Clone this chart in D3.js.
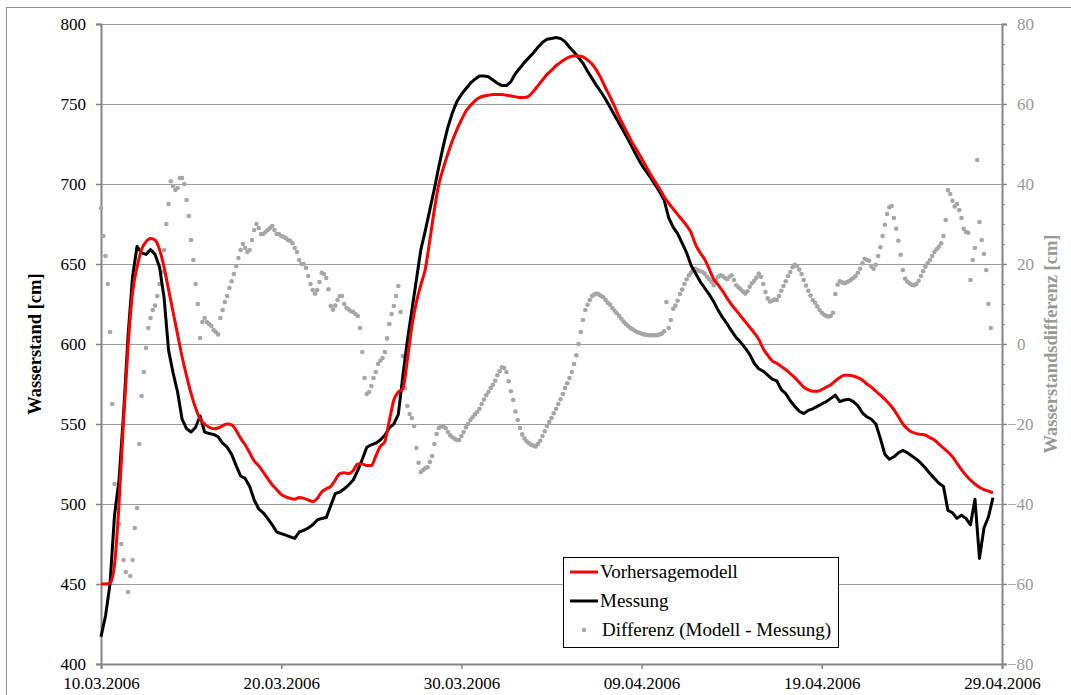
<!DOCTYPE html>
<html>
<head>
<meta charset="utf-8">
<script src="https://cdn.jsdelivr.net/npm/d3@7"></script>
<style>
  body { margin: 0; background: #fff; }
  text { font-family: "Liberation Serif", "Times New Roman", serif; }
</style>
</head>
<body>
<svg id="chart" width="1071" height="695"></svg>
<script>
// Time base: first sample and end of the x range (UTC)
const seriesStart = "10.03.2006";
const axisEnd = "29.04.2006";
const lineStepHours = 6;   // spacing of model / measurement samples
const diffStepHours = 3;   // spacing of difference samples

const dateTicks = ["10.03.2006", "20.03.2006", "30.03.2006", "09.04.2006", "19.04.2006", "29.04.2006"];
const levelTicks = [400, 450, 500, 550, 600, 650, 700, 750, 800];
const diffTicks = [-80, -60, -40, -20, 0, 20, 40, 60, 80];

// Vorhersagemodell, water level [cm], one row per day
const model = [
  450, 450, 450.5, 462,
  500, 552, 598, 632,
  648, 659, 664, 666,
  665, 659, 648, 634,
  620, 606, 592, 580,
  569, 560, 553, 550,
  548, 547, 547.5, 549,
  550, 549.5, 546, 541,
  537, 532, 527, 524,
  520, 516, 512, 509,
  506, 504.5, 503.5, 503,
  504, 503.5, 502.5, 501.5,
  503.5, 507.5, 509.5, 511,
  515, 519, 519.5, 519,
  521, 525, 525, 524,
  524, 530, 536, 539,
  552, 565, 570, 572,
  590, 611, 626, 637,
  647, 665, 684, 700,
  710, 719, 727, 734,
  740, 745.5, 749, 752,
  754, 755, 755.5, 756,
  756, 756, 755.5, 755,
  754.5, 754, 754, 755,
  758, 761.5, 765, 768.5,
  771, 774, 776, 778,
  779.5, 780, 780, 779.5,
  777.5, 775, 771, 766,
  760, 754.5, 748.5, 742,
  736.5, 731, 725.5, 721,
  716, 711, 706, 701.5,
  697, 692, 688, 684.5,
  681, 677.5, 674, 669.5,
  662, 657, 653, 647,
  640.5, 637, 633, 628.5,
  624.5, 621, 617.5, 614,
  610.5, 607, 603, 597,
  593, 589.5, 588, 586,
  584, 581.5, 579, 576,
  573, 571.5, 570.5, 570.5,
  571.5, 573, 574.5, 577,
  579, 580.5, 580.5, 580,
  579, 577.5, 575, 573,
  570.5, 568, 565.5, 562.5,
  559, 554.5, 550, 547,
  545, 544, 543.5, 543,
  541.5, 540, 537.5, 535,
  532.5, 529.5, 525.5, 521.5,
  518, 515, 512.5, 510.5,
  509, 508, 507
];

// Messung, water level [cm], one row per day
const measured = [
  417, 430, 450, 493,
  515, 556, 605, 642,
  661, 657, 656, 659,
  656, 648, 629, 596,
  582, 570, 553, 547,
  545, 548, 555, 545,
  544, 543.5, 542, 538,
  535.5, 531, 524, 517.5,
  516, 511, 502.5, 497,
  494.5, 491, 487, 482.5,
  481.5, 480.5, 479.5, 478.5,
  482.5, 483.5, 485, 487,
  490, 491, 491.5, 499,
  506.5, 507.5, 509.5, 512,
  515, 521, 528, 535.5,
  537, 538, 540, 543,
  547.5, 550, 556, 580,
  602, 621, 640, 659,
  671, 684, 697, 711,
  724, 735.5, 744.5, 751.5,
  756, 759.5, 763, 765.5,
  767.5, 767.5, 767, 765,
  763, 761.5, 761.5, 764,
  769, 772.5, 776, 779,
  782, 785.5, 788.5, 790.5,
  791, 791.5, 791, 789,
  785.5, 782.5, 779, 775.5,
  770.5, 766, 761.5, 757.5,
  753, 748, 743, 738,
  733, 728, 722.5, 717,
  712, 708, 704, 699.5,
  695, 690, 679, 673,
  669, 663, 657, 649,
  644, 639, 635, 631,
  626.5, 621, 616.5, 612.5,
  608, 604, 601, 597.5,
  593.5, 588, 584.5, 583,
  580.5, 578, 577, 571.5,
  569, 564.5, 561, 558,
  556.5, 558.5, 559.5, 561,
  562.5, 564, 566, 568,
  564, 565, 565.5, 564,
  561.5, 557, 554.5, 553,
  550, 541, 531, 528,
  529.5, 532, 533.5, 532,
  530, 528, 525.5, 522.5,
  519, 516, 513, 511,
  496, 494.5, 491, 493,
  491, 487, 503, 466,
  485, 492, 504
];

// Differenz (Modell - Messung) [cm], one row per day
const difference = [
  34, 27, 22, 15, 3, -15, -35, -41,
  -45, -50, -54, -57, -62, -58, -54, -46,
  -41, -25, -13, -7, -1, 4, 6.5, 8.5,
  9.6, 12, 15, 18, 23.5, 30, 35, 40.7,
  39.5, 38.5, 39, 41.5, 41.5, 40, 36, 32,
  26, 21, 15, 10, 1.5, 5.5, 6.5, 5.5,
  5, 4.5, 3.5, 3, 2.4, 6.5, 8.5, 10.5,
  12, 14, 15.7, 17.5, 19.5, 21.5, 23.5, 25,
  24, 23, 23.5, 26, 28.5, 30, 29, 27.5,
  27.5, 28, 28.5, 29, 29.5, 28.5, 27.5, 27.5,
  27, 26.8, 26.5, 26, 25.8, 25.2, 24, 23,
  21, 20, 20, 19, 17, 15, 13.5, 12.6,
  13.5, 15.5, 17.8, 17.5, 16.5, 13.7, 9.5, 8.6,
  9.6, 11, 12, 12, 10, 9, 8.6, 8.2,
  8, 7.5, 7, 4, -2, -8.5, -12.5, -12,
  -10.5, -8.5, -7, -5, -4.2, -3.5, -2, 1.4,
  5, 7.5, 9.5, 12, 14.5, 8, -3, -11,
  -15.5, -17.5, -18.5, -20.5, -26, -29.7, -32, -31.5,
  -31, -30.8, -29.5, -28, -25, -22.5, -21, -20.5,
  -20.7, -21, -22, -22.8, -23.3, -23.7, -24, -24,
  -23, -22, -20.8, -20, -19, -18.3, -17.6, -17,
  -16.2, -15, -13.9, -12.8, -12, -11, -10.2, -9.2,
  -7.8, -6.8, -5.8, -6, -7, -9.3, -11.8, -14,
  -16.9, -19, -21, -22.6, -23.6, -24.3, -24.8, -25.2,
  -25.4, -25.6, -25, -24.2, -23, -21.8, -20.5, -19.5,
  -18.5, -17.3, -16.2, -15, -13.8, -12.5, -11, -9.8,
  -8.5, -7, -5, -2.8, 0, 3, 6, 8.5,
  9.8, 11, 12, 12.4, 12.6, 12.4, 12, 11.7,
  11, 10.3, 9.8, 9, 8.3, 7.7, 7, 6.3,
  5.6, 5, 4.5, 4, 3.7, 3.3, 3, 2.8,
  2.6, 2.4, 2.3, 2.2, 2.2, 2.2, 2.2, 2.2,
  2.4, 2.6, 3.2, 10.5, 4, 6, 8.8, 9.6,
  10.8, 12.5, 13.6, 15, 16.2, 17.2, 17.9, 18.6,
  18.8, 18.4, 18.2, 18, 17.6, 16.8, 16.2, 15.5,
  14.7, 16, 16.8, 17.2, 17, 16.5, 16.2, 16.8,
  17.2, 16, 14.7, 14.2, 13.7, 13.1, 12.6, 13.2,
  14.3, 15.2, 15.8, 16.6, 17.6, 16.8, 15, 13,
  11.4, 10.6, 10.8, 11.1, 11, 12, 13.3, 14.5,
  15.7, 17, 18, 19.2, 19.8, 19.5, 18.6, 17.5,
  16, 14.6, 13.3, 12.1, 11, 10.3, 9.4, 8.5,
  7.8, 7.3, 7, 6.9, 7, 7.8, 12.5, 14.8,
  15.7, 15.4, 15.2, 15.4, 15.7, 16.1, 16.5, 17,
  17.8, 18.8, 20.2, 21.3, 21, 20.8, 19.4, 18.8,
  19.8, 22, 24.2, 27, 29.8, 32.5, 34.2, 34.5,
  31.5, 28.8, 25.8, 22.3, 18.5, 16.3, 15.6, 15.1,
  14.8, 14.7, 15, 15.8, 17, 18.2, 19.3, 20.2,
  21, 22, 23, 23.7, 24.3, 25.2, 27, 31,
  38.5, 37.5, 35.8, 34.4, 35, 33.5, 31.5, 28.8,
  28, 27.8, 16, 21, 24, 46, 30.5, 26,
  22.5, 18.5, 10, 4
];

const legendLabels = ["Vorhersagemodell", "Messung", "Differenz (Modell - Messung)"];

// ---------------------------------------------------------------
const parseDay = d3.utcParse("%d.%m.%Y");
const fmtDay = d3.utcFormat("%d.%m.%Y");
const t0 = parseDay(seriesStart);
const HOUR = 3600e3;
const atStep = (step) => (v, i) => ({ t: new Date(+t0 + i * step * HOUR), v });

const modelPts = model.map(atStep(lineStepHours));
const measuredPts = measured.map(atStep(lineStepHours));
const diffPts = difference.map(atStep(diffStepHours));

const W = 1071, H = 695;
const plot = { left: 101, right: 1002, top: 24, bottom: 664 };

const x = d3.scaleUtc().domain([t0, parseDay(axisEnd)]).range([plot.left, plot.right]);
const yL = d3.scaleLinear().domain([400, 800]).range([plot.bottom, plot.top]);
const yR = d3.scaleLinear().domain([-80, 80]).range([plot.bottom, plot.top]);

const svg = d3.select("#chart");
const serif = '"Liberation Serif", "Times New Roman", serif';
const axisColor = "#868686";
const gridColor = "#9c9c9c";
const fontSize = 17;

// outer frame
svg.append("rect")
  .attr("x", 6.5).attr("y", 7.5).attr("width", W).attr("height", H)
  .attr("fill", "none").attr("stroke", "#8c8c8c").attr("stroke-width", 1);

// horizontal gridlines
svg.append("g").selectAll("line")
  .data(levelTicks.filter(v => v > 400))
  .join("line")
  .attr("x1", plot.left).attr("x2", plot.right)
  .attr("y1", d => Math.round(yL(d)) + 0.5).attr("y2", d => Math.round(yL(d)) + 0.5)
  .attr("stroke", gridColor).attr("stroke-width", 1);

function styleAxis(g, labelColor) {
  g.attr("font-family", serif).attr("font-size", fontSize);
  g.select(".domain").attr("stroke", axisColor).attr("stroke-width", 2);
  g.selectAll(".tick line").attr("stroke", axisColor).attr("stroke-width", 1.5);
  g.selectAll(".tick text").attr("fill", labelColor)
    .style("font-size", fontSize + "px").style("font-family", serif);
}

// left axis
const gL = svg.append("g").attr("transform", `translate(${plot.left},0)`)
  .call(d3.axisLeft(yL).tickValues(levelTicks).tickSize(5).tickPadding(10));
styleAxis(gL, "#000");

// right axis: minor ticks every 5 cm, labelled every 20 cm
const gRminor = svg.append("g").attr("transform", `translate(${plot.right},0)`)
  .call(d3.axisRight(yR).tickValues(d3.range(-80, 81, 5)).tickSize(3).tickFormat(""));
gRminor.select(".domain").remove();
gRminor.selectAll(".tick line").attr("stroke", axisColor).attr("stroke-width", 1);

const gR = svg.append("g").attr("transform", `translate(${plot.right},0)`)
  .call(d3.axisRight(yR).tickValues(diffTicks).tickSize(5).tickPadding(9));
styleAxis(gR, "#999999");
gR.selectAll(".tick text").attr("x", d => d < 0 ? 5 : 15);

// bottom axis
const gX = svg.append("g").attr("transform", `translate(0,${plot.bottom})`)
  .call(d3.axisBottom(x).tickValues(dateTicks.map(parseDay)).tickFormat(fmtDay)
    .tickSize(5).tickPadding(8));
styleAxis(gX, "#000");

// axis titles
svg.append("text")
  .attr("transform", `translate(41,${(plot.top + plot.bottom) / 2}) rotate(-90)`)
  .attr("text-anchor", "middle")
  .style("font-size", "18.5px").style("font-weight", "bold")
  .attr("fill", "#000")
  .text("Wasserstand [cm]");

svg.append("text")
  .attr("transform", `translate(1057,${(plot.top + plot.bottom) / 2}) rotate(-90)`)
  .attr("text-anchor", "middle")
  .style("font-size", "18.5px").style("font-weight", "bold")
  .attr("fill", "#999999")
  .text("Wasserstandsdifferenz [cm]");

// difference dots (right axis)
svg.append("g").selectAll("circle")
  .data(diffPts)
  .join("circle")
  .attr("cx", d => x(d.t))
  .attr("cy", d => yR(d.v))
  .attr("r", 2.3)
  .attr("fill", "#a6a6a6");

// lines (left axis)
svg.append("path").datum(measuredPts)
  .attr("d", d3.line().x(d => x(d.t)).y(d => yL(d.v)).curve(d3.curveLinear))
  .attr("fill", "none").attr("stroke", "#000").attr("stroke-width", 3)
  .attr("stroke-linejoin", "round");
svg.append("path").datum(modelPts)
  .attr("d", d3.line().x(d => x(d.t)).y(d => yL(d.v)).curve(d3.curveMonotoneX))
  .attr("fill", "none").attr("stroke", "#ff0000").attr("stroke-width", 3)
  .attr("stroke-linejoin", "round");

// legend
const lg = svg.append("g").attr("transform", "translate(563,557)");
lg.append("rect").attr("x", 0.5).attr("y", 0.5).attr("width", 275).attr("height", 90)
  .attr("fill", "#fff").attr("stroke", "#000").attr("stroke-width", 1);
const rows = [
  { label: legendLabels[0], kind: "line", color: "#ff0000", y: 15 },
  { label: legendLabels[1], kind: "line", color: "#000", y: 44 },
  { label: legendLabels[2], kind: "dot", color: "#a6a6a6", y: 73 }
];
rows.forEach(r => {
  if (r.kind === "line") {
    lg.append("line").attr("x1", 7).attr("x2", 35).attr("y1", r.y).attr("y2", r.y)
      .attr("stroke", r.color).attr("stroke-width", 3);
  } else {
    lg.append("circle").attr("cx", 21).attr("cy", r.y).attr("r", 2.3).attr("fill", r.color);
  }
  lg.append("text").attr("x", r.kind === "line" ? 37 : 39).attr("y", r.y + 6)
    .style("font-size", "19px").attr("fill", "#000").text(r.label);
});
</script>
</body>
</html>
